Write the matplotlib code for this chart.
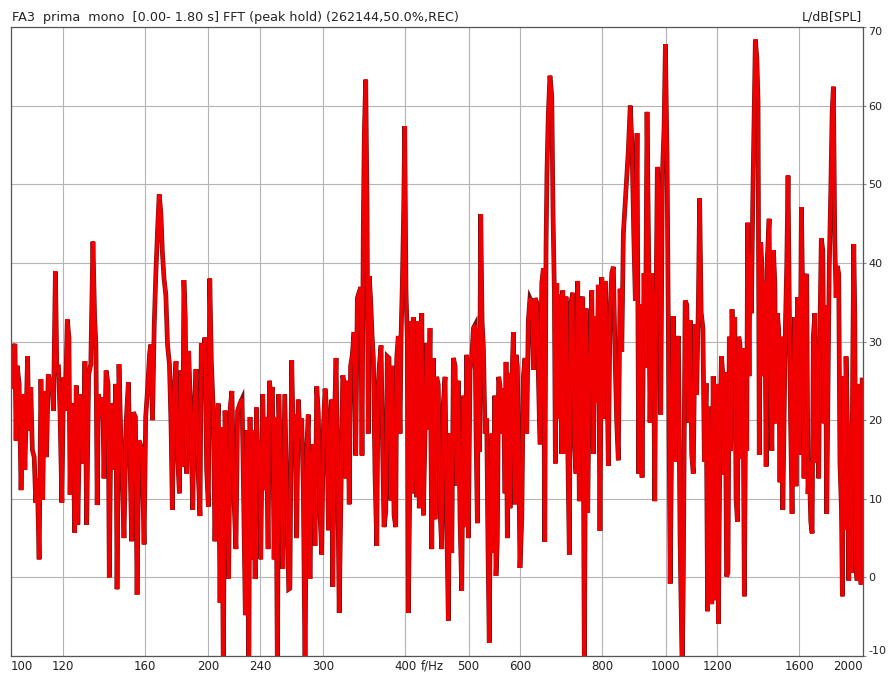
import matplotlib.pyplot as plt
from matplotlib.ticker import FixedLocator, NullLocator

# peak-hold spectrum (Hz, dB SPL)
freq_lo = [
    100.0, 100.4, 100.8, 101.4, 101.8, 102.2, 102.9, 103.6, 104.4, 105.0,
    106.0, 106.5, 107.2, 107.8, 108.5, 109.1, 109.7, 110.4, 111.1, 111.8,
    112.4, 113.3, 114.0, 114.7, 115.4, 116.1, 116.9, 117.5, 118.2, 118.8,
    119.6, 120.3, 121.0, 121.9, 122.6, 123.1, 123.6, 124.4, 125.1, 125.8,
    126.5, 127.5, 128.4, 128.9, 129.7, 130.5, 131.4, 132.4, 133.4, 134.2,
    134.8, 135.4, 136.0, 137.1, 138.1, 138.7, 139.7, 140.7, 141.3, 142.2,
    142.9, 143.7, 144.6, 145.2, 146.2, 147.1, 147.9, 148.8, 149.9, 151.1,
    152.0, 152.9, 153.8, 154.9, 155.8, 156.8, 157.5, 158.5, 159.7, 160.6,
    161.6, 162.8,
]
level_lo = [
    27, 24, 28.8, 29.7, 17.4, 26.9, 24.6, 11.1, 23.3, 13.7,
    28.1, 18.7, 24.2, 16.2, 15.3, 9.5, 12.4, 2.3, 25.2, 9.9,
    23.7, 15.3, 25.8, 23.7, 25.4, 21.2, 38.9, 26.3, 26.5, 21.2,
    9.5, 25.4, 21.2, 32.8, 30.5, 10.5, 22.1, 20.4, 5.7, 24.4,
    6.7, 23.3, 21.2, 14.5, 27.5, 6.7, 25.8, 27.1, 42.7, 33.0,
    29.6, 9.2, 23.3, 20.4, 22.9, 12.6, 26.3, 24.6, 0.0, 22.1,
    13.7, 17.9, 24.6, -1.5, 27.1, 18.3, 12.8, 5.0, 19.5, 24.8,
    14.9, 4.6, 21.0, 20.4, -2.2, 17.4, 17.0, 16.2, 4.2, 20.4,
    23.7, 28.4,
]

freq_mid = [
    163.5, 164.5, 165.5, 166.4, 167.4, 168.4, 169.4, 170.3, 171.3, 172.4,
    173.4, 174.6, 175.6, 176.4, 177.4, 178.7, 179.8, 180.8, 181.9, 182.9,
    183.7, 184.6, 185.5, 186.8, 188.2, 189.5, 190.5, 191.7, 193.1, 194.4,
    195.3, 196.7, 197.8, 199.0, 200.2, 201.2, 202.3, 203.7, 204.9, 206.2,
    207.3, 208.6, 209.8, 211.0, 212.3, 213.5, 215.0, 216.2, 217.5, 219.0,
    220.6, 221.9, 223.7, 225.4, 226.4, 228.0, 229.2, 230.8, 231.8, 233.2,
    234.6, 236.0, 237.1, 238.5, 239.6, 240.7, 242.4, 243.8, 245.3, 247.0,
    248.2, 249.3, 250.8, 252.3, 253.8, 255.2, 256.5, 258.3, 260.1, 261.9,
    263.8, 265.6,
    266.7, 268.4, 269.9, 271.5, 273.1, 274.7, 276.4, 278.0, 279.6, 281.3,
    282.9, 284.5, 286.2, 288.0, 289.6, 291.3, 293.1, 294.7, 296.4, 298.3,
    300.0, 301.8, 303.6, 305.4, 307.2, 309.0, 310.1, 311.8, 313.7, 315.5,
    317.2, 319.3, 321.2, 323.0, 324.9, 326.8, 328.6, 330.2, 332.2, 334.2,
    336.2, 338.1, 340.0, 342.2, 343.7, 345.3, 346.5, 348.2, 349.8, 351.3,
    352.5, 354.2, 356.1, 357.7, 359.8, 362.0, 363.6, 365.3, 367.5, 369.2,
    371.4, 373.6, 375.7, 377.9, 380.3, 382.4, 384.7, 387.0, 388.3, 390.5,
    392.9, 394.3, 396.1, 398.0, 399.4, 401.2, 403.1, 404.5, 406.9, 408.4,
    410.3, 411.7, 414.2, 416.6, 418.5, 420.4,
]
level_mid = [
    29.6, 20.0, 32.1, 38.4, 43.9, 48.7, 46.4, 41.4, 38.0, 35.9,
    29.6, 27.1, 19.1, 8.6, 23.7, 27.5, 14.9, 10.7, 26.3, 14.1,
    37.8, 33.0, 13.2, 28.8, 20.4, 8.6, 21.2, 26.5, 13.7, 7.8,
    29.8, 27.5, 30.5, 13.7, 9.0, 38.0, 27.5, 21.2, 4.6, 17.0,
    22.1, -3.2, 19.1, -12, 21.2, 13.7, -0.2, 21.6, 23.7, 10.3,
    3.6, 21.2, 22.1, 22.7, 12.8, -4.8, 18.7, -12, 20.4, 2.3,
    18.7, -0.2, 21.6, 12.8, 17.0, 2.3, 23.3, 11.1, 20.4, 3.6,
    25.0, 22.9, 24.2, 2.3, 20.4, -12, 23.3, 12.8, 1.1, 23.3,
    10.7, -1.5,
    -1.4, 27.6, 17.4, 20.7, 5.0, 22.6, 17.9, 20.2, 11.2, -12,
    16.0, 20.7, -0.2, 15.5, 16.9, 4.0, 24.3, 21.0, 8.3, 2.9,
    18.8, 24.0, 21.2, 6.0, 17.9, 22.6, -1.2, 19.3, 27.9, 13.6,
    -4.5, 11.2, 25.7, 24.5, 12.6, 25.0, 9.3, 26.9, 28.3, 31.2,
    15.5, 35.5, 36.2, 36.9, 15.5, 45.0, 56.4, 63.3, 47.4, 18.3,
    38.3, 35.5, 30.7, 27.9, 13.1, 4.0, 24.0, 26.9, 29.5, 18.3,
    6.4, 8.3, 28.1, 27.9, 9.8, 26.9, 7.9, 6.4, 27.9, 30.7,
    18.3, 30.7, 37.4, 46.9, 57.4, 36.4, 30.2, -4.5, 13.6, 32.6,
    10.7, 33.1, 16.0, 10.2, 32.6, 8.8,
]

freq_hi = [
    424.1, 426.5, 429.0, 431.5, 433.9, 436.6, 439.3, 441.7, 444.3, 446.9,
    449.4, 452.1, 455.0, 457.5, 460.3, 463.0, 465.6, 468.4, 471.3, 474.0,
    476.8, 479.6, 482.3, 485.2, 488.1, 491.0, 493.8, 496.7, 499.6, 502.6,
    505.6, 508.6, 511.5, 513.3, 515.7, 517.5, 519.3, 521.8, 524.3, 526.7,
    529.8, 532.9, 535.3, 537.7, 540.3, 543.1, 545.5, 548.2, 550.6, 553.1,
    555.8, 558.3, 561.9, 565.1, 568.4, 570.4, 573.0, 575.8, 578.5, 582.0,
    585.3, 588.2, 590.8, 593.5, 596.3, 599.0, 602.9, 606.2, 609.8, 613.4,
    616.9, 620.5, 624.4, 628.0, 631.7, 635.4, 638.9, 642.7, 646.8, 650.4,
    653.6, 656.6, 658.8, 661.8, 665.7, 670.0, 673.0, 676.1, 678.5, 681.8,
    684.9, 688.0, 693.9, 696.3, 699.5, 704.4, 707.6, 712.6, 716.0, 721.3,
    725.4, 729.6, 734.0, 738.1, 741.5, 747.1, 751.3, 755.8, 760.2, 764.5,
    771.2, 775.5, 780.1, 784.7, 789.1, 793.7, 798.8, 803.3, 808.1, 812.9,
    817.4, 822.3, 827.4, 832.0, 837.0, 841.9, 846.6, 851.9, 857.0, 861.8,
    866.9, 872.0, 876.9, 882.9, 888.6, 893.9, 898.9, 904.3, 909.6, 914.8,
    920.4, 926.9, 931.1, 936.6, 942.2, 946.5, 952.4, 957.7, 962.4, 966.8,
    971.2, 976.9, 982.8, 988.6, 994.5, 999.1, 1005, 1010, 1016, 1022,
    1027, 1034, 1040, 1046, 1052, 1060, 1064, 1071, 1077, 1084,
    1090, 1096, 1102, 1109, 1115, 1122, 1127, 1133, 1140, 1146,
    1153, 1159, 1164, 1176, 1182, 1190, 1197, 1204, 1211, 1217,
    1222, 1228, 1233, 1239, 1245, 1251, 1257, 1263, 1269, 1275,
    1281, 1287, 1293, 1299, 1305, 1312, 1319, 1325, 1330, 1334,
    1341, 1345, 1352, 1359, 1365, 1371, 1378, 1384, 1390, 1397,
    1404, 1410, 1417, 1424, 1430, 1439, 1445, 1453, 1461, 1468,
    1474, 1481, 1488, 1495, 1502, 1510, 1517, 1524, 1531, 1538,
    1545, 1552, 1560, 1567, 1575, 1582, 1590, 1597, 1605, 1612,
    1620, 1627, 1634, 1642, 1650, 1657, 1666, 1674, 1681, 1690,
    1697, 1705, 1713, 1721, 1729, 1738, 1746, 1754, 1762, 1770,
    1778, 1788, 1796, 1804, 1813, 1821, 1829, 1838, 1846, 1856,
    1862, 1871, 1880, 1886, 1895, 1904, 1913, 1922, 1931, 1938,
    1945, 1952, 1961, 1970, 1979, 1989, 1996,
]
level_hi = [
    33.6, 7.9, 18.3, 29.8, 18.8, 31.7, 3.6, 27.9, 7.4, 25.5,
    24.5, 8.8, 3.6, 22.1, 25.5, 7.4, -5.5, 18.3, 3.1, 27.9,
    26.9, 11.7, 25.0, 7.4, -1.7, 23.1, 6.4, 28.3, 5.0, 26.4,
    27.9, 31.7, 32.1, 18.3, 6.9, 31.7, 16.0, 46.2, 32.6, 29.3,
    18.3, 20.2, 4.0, -8.3, 13.6, 18.3, 3.1, 23.1, 0.2, 4.5,
    25.5, 24.5, 18.3, 24.0, 10.7, 27.4, 5.0, 26.0, 8.8, 24.5,
    31.2, 9.3, 28.3, 26.9, 16.9, 1.2, 7.4, 25.5, 27.9, 18.3,
    32.6, 35.5, 35.0, 26.4, 35.5, 35.0, 26.0, 16.9, 37.4, 39.3,
    4.5, 42.1, 51.7, 58.8, 63.8, 61.2, 46.0, 36.4, 14.5, 37.4,
    20.2, 36.0, 15.7, 36.5, 15.7, 35.7, 20.7, 2.9, 34.7, 36.2,
    17.2, 13.2, 37.7, 9.7, 34.7, 35.7, -12, 34.2, 8.2, 24.7,
    36.5, 15.7, 33.2, 22.2, 37.2, 5.9, 38.2, 20.2, 37.7, 28.7,
    14.2, 33.7, 38.7, 39.5, 28.2, 19.7, 14.9, 36.7, 28.7, 43.7,
    47.2, 50.7, 54.2, 60.0, 54.7, 43.7, 35.2, 56.5, 13.2, 34.7,
    12.7, 38.7, 26.7, 59.2, 40.2, 19.7, 38.7, 33.7, 9.7, 34.7,
    52.2, 48.7, 20.7, 51.2, 57.2, 67.8, 53.2, 29.7, -0.8, 19.7,
    33.2, 14.7, 28.7, 30.7, 4.7, -12, -0.3, 35.2, 34.7, 19.7,
    32.7, 15.7, 13.2, 32.2, 23.2, 34.7, 48.2, 33.7, 31.7, 14.7,
    24.7, -4.3, 21.7, -3.4, 25.6, -2.9, 24.6, -5.9, 19.6, 28.1,
    26.1, 13.1, 26.1, 0.1, 0.6, 30.6, 16.1, 34.1, 26.1, 33.1,
    10.1, 7.1, 30.6, 29.6, 15.1, 29.1, -2.4, 22.1, 16.1, 45.1,
    25.6, 41.1, 33.6, 48.6, 58.1, 68.4, 66.1, 60.6, 15.6, 42.6,
    39.1, 25.6, 37.6, 14.1, 40.6, 45.6, 24.6, 16.1, 41.6, 37.6,
    19.6, 33.6, 31.6, 12.1, 30.6, 8.6, 20.6, 32.1, 39.6, 51.1,
    34.1, 19.6, 8.1, 24.6, 33.1, 11.6, 35.6, 15.6, 24.6, 47.1,
    34.6, 12.6, 37.6, 38.6, 10.6, 14.6, 7.1, 5.6, 30.6, 33.6,
    14.6, 29.6, 12.6, 32.1, 43.1, 41.6, 19.6, 34.6, 8.1, 23.6,
    39.6, 49.6, 59.1, 62.4, 42.6, 35.6, 39.6, 38.6, 14.6, 8.6,
    -2.4, 25.6, 6.1, 28.1, 19.6, -0.4, 19.6, 0.6, 27.1, 42.4,
    33.6, 1.6, -0.4, 24.6, 0.6, -0.9, 25.1,
]

xticks = [100, 120, 160, 200, 240, 300, 400, 500, 600, 800, 1000, 1200, 1600, 2000]
yticks = [-10, 0, 10, 20, 30, 40, 50, 60, 70]

freq = freq_lo + freq_mid + freq_hi
level = level_lo + level_mid + level_hi

W, H = 893, 675
fig = plt.figure(figsize=(W / 100, H / 100), dpi=100)
ax = fig.add_axes([11 / W, 1 - 656 / H, (863 - 11) / W, (656 - 27) / H])

# dark halo under the red trace, like the anti-aliased edges of the screenshot
ax.plot(freq, level, color="#7a1010", linewidth=3.4, solid_joinstyle="miter")
ax.plot(freq, level, color="#f00000", linewidth=2.5, solid_joinstyle="miter")

ax.set_xscale("log")
ax.set_xlim(100, 2002)
ax.set_ylim(-10, 70)

ax.xaxis.set_major_locator(FixedLocator(xticks))
ax.xaxis.set_minor_locator(NullLocator())
ax.set_xticklabels([str(t) for t in xticks])
ax.yaxis.set_major_locator(FixedLocator(yticks))
ax.set_yticklabels([str(t) for t in yticks])  # plain hyphen, like the original
ax.yaxis.tick_right()
ax.grid(True, color="#b4b4b4", linewidth=0.8)
ax.set_axisbelow(True)

ax.tick_params(axis="x", length=0, pad=3, labelsize=8.5, labelcolor="#222222")
ax.tick_params(axis="y", length=2, pad=2, labelsize=8, labelcolor="#222222",
               color="#888888")
for s in ax.spines.values():
    s.set_color("#555555")
    s.set_linewidth(0.9)

# edge labels sit inside the frame, as in the original software
xl = ax.get_xticklabels()
xl[0].set_horizontalalignment("left")
xl[-1].set_horizontalalignment("right")
yl = ax.get_yticklabels()
yl[-1].set_verticalalignment("top")
yl[0].set_verticalalignment("bottom")

fig.text(12 / W, 1 - 17 / H, "FA3  prima  mono  [0.00- 1.80 s] FFT (peak hold) (262144,50.0%,REC)",
         fontsize=9.2, color="#222222", va="center", ha="left")
fig.text(862 / W, 1 - 17 / H, "L/dB[SPL]", fontsize=9, color="#222222",
         va="center", ha="right")
fig.text(432 / W, 1 - 666 / H, "f/Hz", fontsize=8.5, color="#222222",
         va="center", ha="center")

fig.savefig("out.png", dpi=100)
